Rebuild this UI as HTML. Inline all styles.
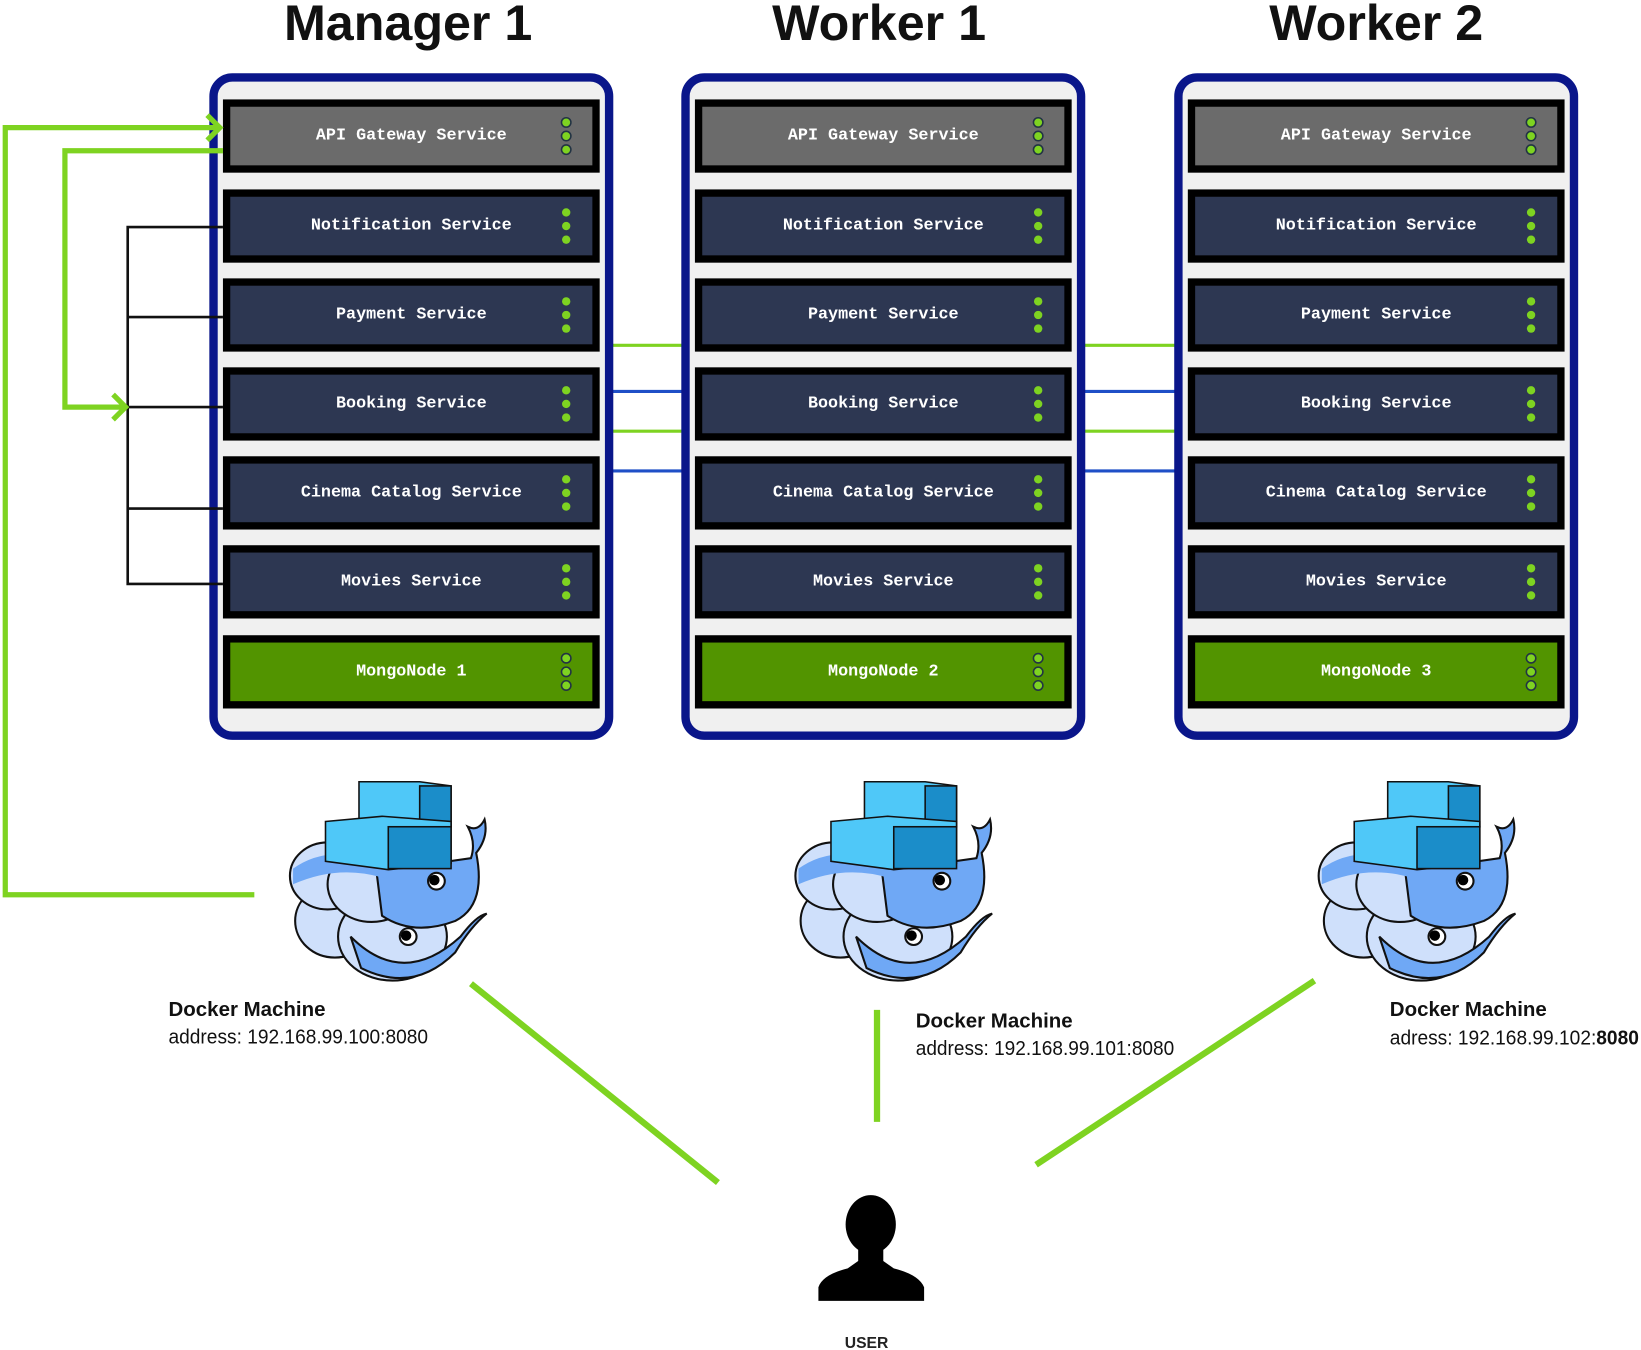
<!DOCTYPE html>
<html><head><meta charset="utf-8"><style>
html,body{margin:0;padding:0;background:#fff;}
svg{display:block;}
.t{font-family:"Liberation Mono",monospace;font-size:16px;fill:#fff;text-anchor:middle;dominant-baseline:central;font-weight:bold;}
.h{font-family:"Liberation Sans",sans-serif;font-weight:bold;font-size:48px;fill:#111;text-anchor:middle;}
.d{font-family:"Liberation Sans",sans-serif;font-size:19px;fill:#111;}
</style></head><body>
<svg width="1641" height="1350" viewBox="0 0 1568 1290" xmlns="http://www.w3.org/2000/svg">
<defs>
  <g id="row"><rect x="3.5" y="3.5" width="353" height="63" stroke="#000" stroke-width="7"/></g>
  <g id="dots"><circle cx="0" cy="-13" r="4" fill="#7ed321"/><circle cx="0" cy="0" r="4" fill="#7ed321"/><circle cx="0" cy="13" r="4" fill="#7ed321"/></g>
  <g id="rdots" fill="#7ed321" stroke="#234" stroke-width="1.5"><circle cx="0" cy="-13" r="4.5"/><circle cx="0" cy="0" r="4.5"/><circle cx="0" cy="13" r="4.5"/></g>
  <g id="col">
    <rect x="-9" y="-21" width="378" height="629" rx="18" fill="#f0f0f0" stroke="#0a168a" stroke-width="8"/>
    <use href="#row" y="0" fill="#6b6b6b"/>
    <use href="#row" y="86" fill="#2d3752"/>
    <use href="#row" y="171" fill="#2d3752"/>
    <use href="#row" y="256" fill="#2d3752"/>
    <use href="#row" y="341" fill="#2d3752"/>
    <use href="#row" y="426" fill="#2d3752"/>
    <use href="#row" y="512" fill="#529400"/>
    <use href="#rdots" x="328" y="35"/>
    <use href="#dots" x="328" y="121"/>
    <use href="#dots" x="328" y="206"/>
    <use href="#dots" x="328" y="291"/>
    <use href="#dots" x="328" y="376"/>
    <use href="#dots" x="328" y="461"/>
    <use href="#rdots" x="328" y="547"/>
  </g>
  <g id="whale" stroke="#111" stroke-width="2">
    <ellipse cx="45" cy="135" rx="38" ry="35" fill="#cfe0fb"/>
    <ellipse cx="100" cy="150" rx="52" ry="42" fill="#cfe0fb"/>
    <path d="M60 150 Q110 200 165 150 Q180 130 190 128 Q175 140 160 165 Q120 205 70 180 Z" fill="#6fa8f5"/>
    <ellipse cx="38" cy="92" rx="36" ry="32" fill="#cfe0fb"/>
    <ellipse cx="80" cy="100" rx="42" ry="36" fill="#cfe0fb"/>
    <path d="M85 90 Q90 70 140 80 L175 75 Q180 60 172 45 Q182 50 188 38 Q192 55 180 70 Q190 120 160 135 Q120 150 90 130 Z" fill="#6fa8f5"/>
    <path d="M5 85 Q40 60 90 80 L95 95 Q50 80 5 100 Z" fill="#6fa8f5" stroke="none"/>
    <circle cx="142" cy="97" r="8" fill="#fff"/><circle cx="140" cy="96" r="5" fill="#000" stroke="none"/>
    <circle cx="115" cy="150" r="8" fill="#fff"/><circle cx="113" cy="149" r="5" fill="#000" stroke="none"/>
    <path d="M68 2 L126 2 L156 6 L156 45 L68 42 Z" fill="#4fc8f8" stroke-width="1.5"/>
    <rect x="126" y="6" width="30" height="39" fill="#1b8dc9" stroke-width="1.5"/>
    <path d="M36 40 L90 35 L156 40 L156 80 L96 86 L36 78 Z" fill="#4fc8f8" stroke-width="1.5"/>
    <rect x="96" y="45" width="60" height="40" fill="#1b8dc9" stroke-width="1.5"/>
  </g>
</defs>

<text class="h" x="390" y="38">Manager 1</text>
<text class="h" x="840" y="38">Worker 1</text>
<text class="h" x="1315" y="38">Worker 2</text>

<g stroke-width="3">
  <line x1="585" y1="330" x2="652" y2="330" stroke="#7ed321"/>
  <line x1="585" y1="374" x2="652" y2="374" stroke="#1f4fc7"/>
  <line x1="585" y1="412" x2="652" y2="412" stroke="#7ed321"/>
  <line x1="585" y1="450" x2="652" y2="450" stroke="#1f4fc7"/>
  <line x1="1035" y1="330" x2="1123" y2="330" stroke="#7ed321"/>
  <line x1="1035" y1="374" x2="1123" y2="374" stroke="#1f4fc7"/>
  <line x1="1035" y1="412" x2="1123" y2="412" stroke="#7ed321"/>
  <line x1="1035" y1="450" x2="1123" y2="450" stroke="#1f4fc7"/>
</g>

<use href="#col" x="213" y="95"/>
<use href="#col" x="664" y="95"/>
<use href="#col" x="1135" y="95"/>

<g fill="none" stroke="#111" stroke-width="2.5">
  <path d="M213 217 H122 V558 H213"/>
  <path d="M122 303 H213 M122 389 H213 M122 486 H213"/>
</g>
<g fill="none" stroke="#7ed321" stroke-width="5">
  <path d="M243 855 H5 V122 H210"/>
  <path d="M198 110 L210 122 L198 134"/>
  <path d="M213 144 H62 V389 H120"/>
  <path d="M108 377 L120 389 L108 401"/>
</g>

<g class="t">
<text x="393" y="130">API Gateway Service</text><text x="393" y="216">Notification Service</text><text x="393" y="301">Payment Service</text><text x="393" y="386">Booking Service</text><text x="393" y="471">Cinema Catalog Service</text><text x="393" y="556">Movies Service</text><text x="393" y="642">MongoNode 1</text>
<text x="844" y="130">API Gateway Service</text><text x="844" y="216">Notification Service</text><text x="844" y="301">Payment Service</text><text x="844" y="386">Booking Service</text><text x="844" y="471">Cinema Catalog Service</text><text x="844" y="556">Movies Service</text><text x="844" y="642">MongoNode 2</text>
<text x="1315" y="130">API Gateway Service</text><text x="1315" y="216">Notification Service</text><text x="1315" y="301">Payment Service</text><text x="1315" y="386">Booking Service</text><text x="1315" y="471">Cinema Catalog Service</text><text x="1315" y="556">Movies Service</text><text x="1315" y="642">MongoNode 3</text>
</g>

<use href="#whale" x="275" y="745"/>
<use href="#whale" x="758" y="745"/>
<use href="#whale" x="1258" y="745"/>

<text class="d" x="161" y="971" font-weight="bold" textLength="150" lengthAdjust="spacingAndGlyphs">Docker Machine</text>
<text class="d" x="161" y="997" textLength="248" lengthAdjust="spacingAndGlyphs">address: 192.168.99.100:8080</text>
<text class="d" x="875" y="982" font-weight="bold" textLength="150" lengthAdjust="spacingAndGlyphs">Docker Machine</text>
<text class="d" x="875" y="1008" textLength="247" lengthAdjust="spacingAndGlyphs">address: 192.168.99.101:8080</text>
<text class="d" x="1328" y="971" font-weight="bold" textLength="150" lengthAdjust="spacingAndGlyphs">Docker Machine</text>
<text class="d" x="1328" y="998" textLength="238" lengthAdjust="spacingAndGlyphs">adress: 192.168.99.102:<tspan font-weight="bold">8080</tspan></text>

<g stroke="#7ed321" stroke-width="6">
  <line x1="450" y1="940" x2="686" y2="1130"/>
  <line x1="838" y1="965" x2="838" y2="1072"/>
  <line x1="1256" y1="937" x2="990" y2="1113"/>
</g>

<g fill="#000">
  <ellipse cx="832" cy="1170" rx="24" ry="28"/>
  <rect x="820" y="1190" width="24" height="20"/>
  <path d="M782 1243 V1230 Q786 1218 810 1212 L820 1205 H844 L854 1212 Q878 1218 883 1230 V1243 Z"/>
</g>
<text x="828" y="1288" font-family="Liberation Sans,sans-serif" font-weight="bold" font-size="15" fill="#222" text-anchor="middle">USER</text>
</svg>
</body></html>
